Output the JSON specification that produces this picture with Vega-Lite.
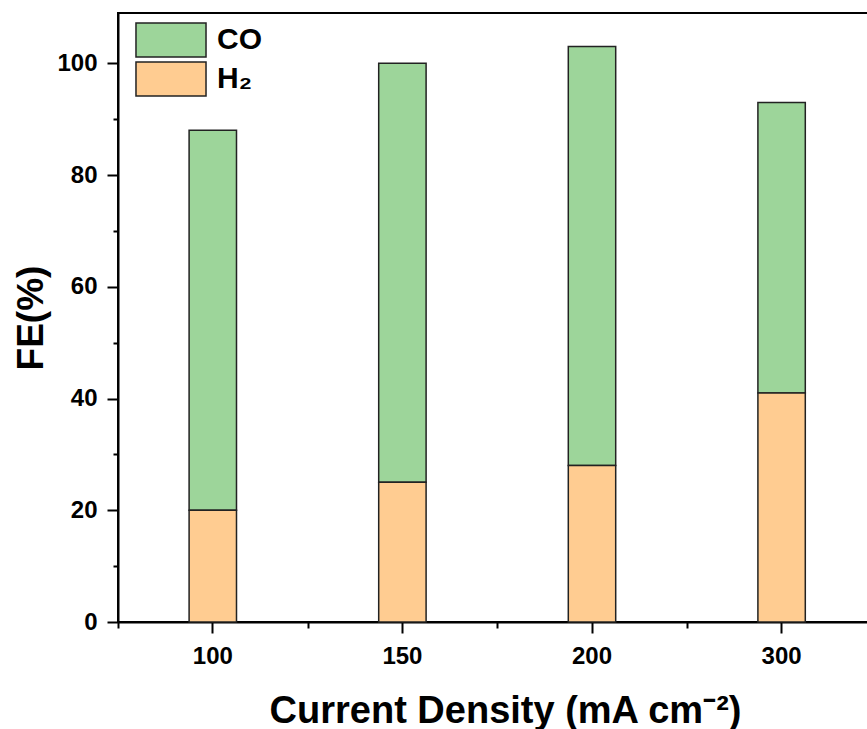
{
  "$schema": "https://vega.github.io/schema/vega-lite/v6.json",
  "autosize": "none",
  "padding": {"left": 118, "top": 13, "right": 0, "bottom": 107},
  "width": 750,
  "height": 609,
  "background": "white",
  "config": {
    "font": "Liberation Sans",
    "view": {"stroke": "black", "strokeWidth": 2},
    "axis": {"domainColor": "black", "domainWidth": 2, "tickColor": "black", "tickWidth": 2, "labelFont": "Liberation Sans", "labelFontWeight": "bold", "labelFontSize": 24, "labelColor": "black", "titleFont": "Liberation Sans", "titleFontWeight": "bold", "titleFontSize": 37, "titleColor": "black", "grid": false}
  },
  "data": {
    "values": [
      {"density": "100", "species": "CO", "fe": 68},
      {"density": "100", "species": "H₂", "fe": 20},
      {"density": "150", "species": "CO", "fe": 75},
      {"density": "150", "species": "H₂", "fe": 25},
      {"density": "200", "species": "CO", "fe": 75},
      {"density": "200", "species": "H₂", "fe": 28},
      {"density": "300", "species": "CO", "fe": 52},
      {"density": "300", "species": "H₂", "fe": 41}
    ]
  },
  "layer": [
    {
      "mark": {"type": "bar", "width": {"band": 0.25}, "stroke": "#222222", "strokeWidth": 1.5},
      "encoding": {
        "x": {"field": "density", "type": "nominal", "sort": ["100", "150", "200", "300"],
          "scale": {"range": [0, 758.4], "paddingInner": 0, "paddingOuter": 0},
          "axis": {"orient": "bottom", "title": "Current Density (mA cm⁻²)", "labelAngle": 0, "tickSize": 11, "labelPadding": 11, "titleFontSize": 38, "titleX": 387, "titleY": 100, "titleBaseline": "alphabetic", "titleAlign": "center"}},
        "y": {"field": "fe", "type": "quantitative", "stack": "zero",
          "scale": {"domain": [0, 109], "nice": false},
          "axis": {"title": "FE(%)", "values": [0,10,20,30,40,50,60,70,80,90,100],
            "labelExpr": "datum.value % 20 === 0 ? datum.label : ''",
            "tickSize": {"condition": {"test": "datum.value % 20 !== 0", "value": 5}, "value": 11},
            "labelPadding": 10, "titleX": -76, "titleBaseline": "alphabetic"}},
        "color": {"field": "species", "type": "nominal",
          "scale": {"domain": ["CO", "H₂"], "range": ["#9DD59A", "#FFCC91"]},
          "legend": {"orient": "none", "legendX": 35, "legendY": 9, "title": null,
            "symbolType": "M-2.06,-1L2.06,-1L2.06,1L-2.06,1Z", "symbolSize": 1156,
            "symbolStrokeColor": "#222222", "symbolStrokeWidth": 1.5, "symbolOpacity": 1,
            "labelFontSize": 30, "labelFontWeight": "bold", "labelColor": "black", "labelFont": "Liberation Sans",
            "labelOffset": 28, "rowPadding": -1}},
        "order": {"field": "species", "sort": "descending"}
      }
    },
    {
      "mark": {"type": "bar", "opacity": 0},
      "encoding": {
        "x": {"field": "density", "type": "nominal", "sort": ["100", "150", "200", "300"],
          "axis": {"orient": "bottom", "tickBand": "extent", "labels": false, "domain": false, "tickSize": 6, "title": null}},
        "y": {"field": "fe", "type": "quantitative", "stack": "zero"}
      }
    }
  ],
  "resolve": {"axis": {"x": "independent"}}
}
